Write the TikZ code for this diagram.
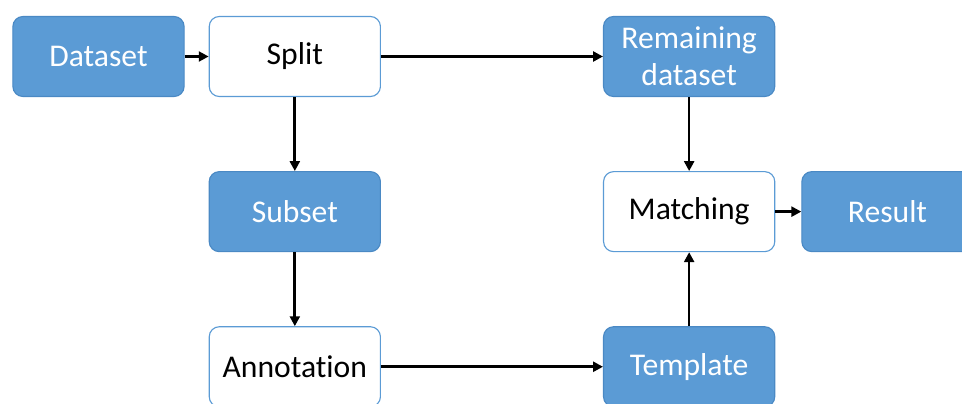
\documentclass[tikz,border=0pt]{standalone}
\usepackage{fontspec}
\setmainfont[Ligatures=NoCommon]{Carlito}
\usepackage{xcolor}
\usepackage{tikz}
\usetikzlibrary{arrows.meta, positioning}

\definecolor{officeblue}{HTML}{5B9BD5}
\definecolor{blueline}{HTML}{4A89C4}

\begin{document}
\begin{tikzpicture}[
    node distance=1.85cm and 0.6cm,
    every node/.style={font=\fontsize{22.5}{25}\selectfont},
    filled/.style={rectangle, draw=blueline, line width=0.8pt, fill=officeblue, text=white, rounded corners=0.25cm, minimum width=4.28cm, minimum height=2.0cm, align=center, inner sep=0pt},
    plain/.style={filled, draw=officeblue, fill=white, text=black},
    link/.style={-{Triangle[length=7pt,width=7pt]}, line width=1.9pt}
]
\clip (0,0) rectangle (24.05,-10.075);
\node[filled] (dataset) at (2.4625,-1.4125) {Dataset};
\node[plain, right=of dataset] (split) {Split};
\node[filled, right=5.55cm of split] (remaining) {Remaining\\[1pt]dataset};
\node[filled, below=of split] (subset) {Subset};
\node[plain, below=of remaining] (matching) {Matching};
\node[filled, right=0.65cm of matching] (result) {Result};
\node[plain, below=of subset] (annotation) {Annotation};
\node[filled, below=of matching] (template) {Template};

\draw[link] (dataset) -- (split);
\draw[link] (split) -- (remaining);
\draw[link] (split) -- (subset);
\draw[link] (subset) -- (annotation);
\draw[link] (annotation) -- (template);
\draw[link] (template) -- (matching);
\draw[link] (remaining) -- (matching);
\draw[link] (matching) -- (result);
\end{tikzpicture}
\end{document}
